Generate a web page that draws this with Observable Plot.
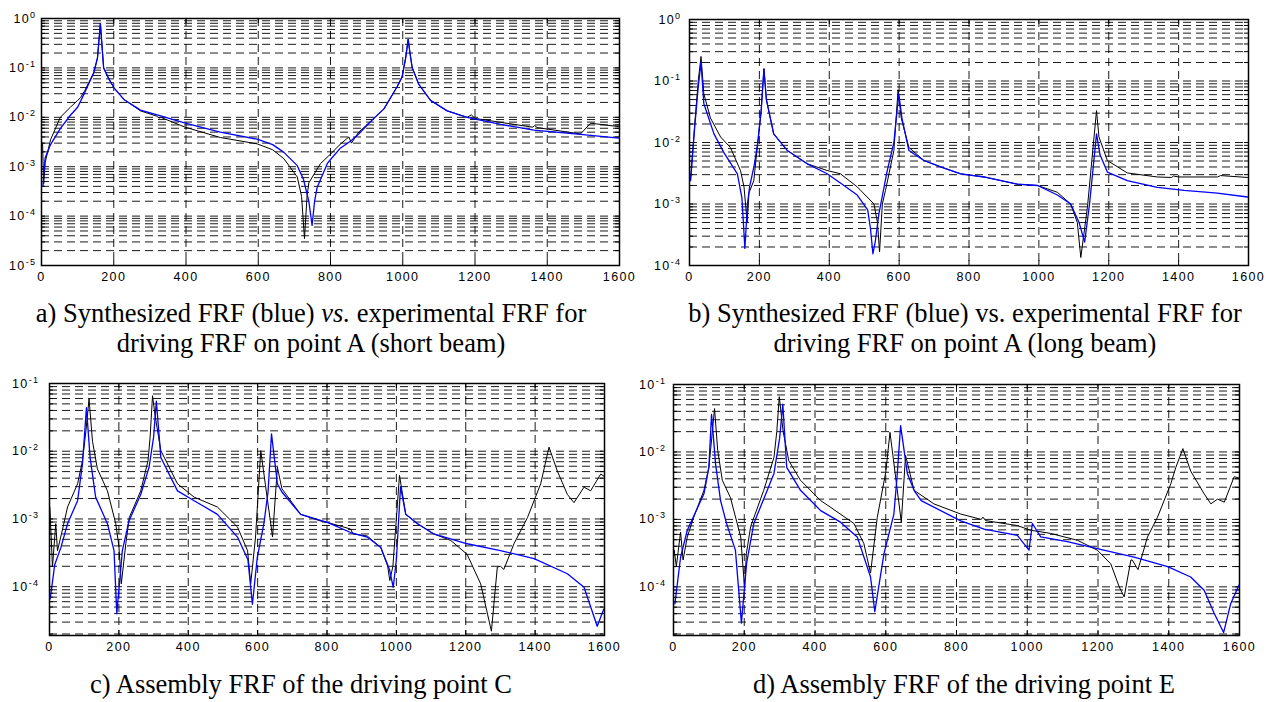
<!DOCTYPE html>
<html>
<head>
<meta charset="utf-8">
<script src="https://cdn.jsdelivr.net/npm/d3@7"></script>
<script src="https://cdn.jsdelivr.net/npm/@observablehq/plot@0.6"></script>
<style>
  html, body { margin: 0; padding: 0; background: #fff; }
  #root { position: relative; width: 1274px; height: 702px; overflow: hidden; background: #fff; }
  .pan { position: absolute; }
  .cap { position: absolute; width: 700px; text-align: center; font-family: "Liberation Serif", "Times New Roman", serif;
         color: #000; white-space: nowrap; }
</style>
</head>
<body>
<div id="root"></div>
<script>
// ---------- shared tick labels ----------
const xTickValues = [0, 200, 400, 600, 800, 1000, 1200, 1400, 1600];
const xGridValues = [200, 400, 600, 800, 1000, 1200, 1400];

// ---------- panel a: short beam, driving point A ----------
const aDecades = [1e-5, 1e-4, 1e-3, 1e-2, 1e-1, 1];
const aExpF = [3, 6, 10, 25, 52, 80, 100, 108, 120, 145, 155, 163, 168, 172, 185, 200, 228, 274, 320, 325, 330, 398, 495, 597, 640, 671, 708, 720, 728, 735, 740, 772, 800, 828, 851, 858, 878, 920, 948, 984, 998, 1008, 1015, 1020, 1026, 1044, 1077, 1123, 1178, 1190, 1200, 1271, 1360, 1365, 1372, 1492, 1520, 1597];
const aExpV = [3e-3, 4.5e-4, 1.2e-3, 3.5e-3, 1e-2, 1.6e-2, 2.2e-2, 2.5e-2, 3.5e-2, 0.081, 0.16, 0.79, 0.25, 0.10, 0.063, 0.040, 0.023, 0.0135, 0.0105, 0.0096, 0.010, 6.3e-3, 3.9e-3, 2.9e-3, 2.2e-3, 1.45e-3, 6.2e-4, 2.5e-4, 3.5e-5, 2.5e-4, 4.7e-4, 1.15e-3, 1.8e-3, 2.9e-3, 4e-3, 3e-3, 5e-3, 9.5e-3, 0.0148, 0.041, 0.065, 0.158, 0.38, 0.2, 0.102, 0.047, 0.022, 0.0135, 0.010, 0.0112, 9.5e-3, 7.9e-3, 6.3e-3, 6.8e-3, 6.2e-3, 4.6e-3, 7.6e-3, 6.5e-3];
const aSynF = [4, 10, 25, 52, 80, 100, 120, 145, 155, 163, 168, 172, 185, 200, 228, 274, 330, 398, 495, 597, 640, 671, 708, 725, 740, 749, 756, 763, 791, 800, 828, 858, 878, 920, 948, 984, 998, 1008, 1015, 1020, 1026, 1044, 1077, 1123, 1178, 1271, 1363, 1492, 1598];
const aSynV = [4e-4, 1.5e-3, 2.8e-3, 5.9e-3, 1.1e-2, 1.6e-2, 3.2e-2, 0.081, 0.16, 0.79, 0.25, 0.10, 0.063, 0.040, 0.023, 0.014, 0.0107, 7.6e-3, 5e-3, 3.6e-3, 2.8e-3, 1.95e-3, 1.05e-3, 5.6e-4, 2e-4, 6.5e-5, 2e-4, 3.8e-4, 1.15e-3, 1.4e-3, 2.4e-3, 3.4e-3, 4.6e-3, 9.5e-3, 0.0148, 0.041, 0.065, 0.158, 0.38, 0.2, 0.102, 0.047, 0.022, 0.0135, 0.010, 7.2e-3, 5.5e-3, 4.5e-3, 3.8e-3];

// ---------- panel b: long beam, driving point A ----------
const bDecades = [1e-4, 1e-3, 1e-2, 1e-1, 1];
const bExpF = [3, 15, 25, 33, 41, 60, 89, 117, 146, 156, 165, 170, 184, 195, 205, 213, 220, 241, 280, 337, 394, 432, 480, 528, 538, 544, 552, 561, 585, 597, 606, 628, 671, 719, 776, 843, 938, 996, 1053, 1091, 1110, 1120, 1139, 1165, 1172, 1196, 1253, 1339, 1380, 1385, 1400, 1511, 1520, 1597];
const bExpV = [2.4e-3, 0.02, 0.1, 0.25, 0.062, 0.025, 0.0123, 8.3e-3, 3.5e-3, 1.9e-3, 5e-4, 1.5e-3, 2.4e-3, 9.5e-3, 0.032, 0.158, 0.05, 0.0138, 7.4e-3, 4.5e-3, 3.5e-3, 3.1e-3, 1.9e-3, 1e-3, 5e-4, 1.66e-4, 1e-3, 1.66e-3, 7.4e-3, 0.072, 0.025, 8.3e-3, 5.1e-3, 4e-3, 3.1e-3, 2.75e-3, 2.1e-3, 2e-3, 1.55e-3, 1e-3, 5e-4, 1.35e-4, 8.9e-4, 0.033, 0.0123, 5.1e-3, 3.2e-3, 2.75e-3, 2.7e-3, 2.85e-3, 2.75e-3, 2.75e-3, 2.9e-3, 2.7e-3];
const bSynF = [3, 15, 25, 33, 41, 70, 98, 137, 150, 158.5, 166, 172, 186, 195, 205, 213, 220, 241, 280, 337, 394, 432, 480, 510, 518, 525, 532, 542, 566, 585, 599, 608, 628, 671, 719, 776, 843, 938, 996, 1053, 1091, 1115, 1131, 1145, 1165, 1175, 1196, 1253, 1339, 1416, 1511, 1597];
const bSynV = [2.4e-3, 0.018, 0.08, 0.2, 0.043, 0.0138, 6.9e-3, 3.1e-3, 1.26e-3, 1.9e-4, 1e-3, 1.9e-3, 4.5e-3, 9.5e-3, 0.032, 0.158, 0.05, 0.0138, 7.4e-3, 4.5e-3, 3.1e-3, 2.2e-3, 1.4e-3, 8e-4, 4e-4, 1.55e-4, 2.5e-4, 6.9e-4, 3.5e-3, 0.01, 0.062, 0.025, 7.4e-3, 5.1e-3, 4e-3, 3.1e-3, 2.75e-3, 2.1e-3, 2e-3, 1.4e-3, 1e-3, 5e-4, 2.4e-4, 1e-3, 0.0138, 6.3e-3, 3.3e-3, 2.4e-3, 1.86e-3, 1.66e-3, 1.5e-3, 1.3e-3];

// ---------- panel c: assembly, driving point C ----------
const cDecades = [1e-4, 1e-3, 1e-2, 1e-1];
const cExpF = [1, 8.6, 18, 23, 37, 52, 81, 95, 105, 114, 124, 138, 167, 191, 200, 207, 220, 230, 263, 284, 290, 297, 305, 321, 369, 417, 484, 542, 571, 580, 594, 609, 643, 657, 670, 724, 782, 801, 868, 875, 916, 955, 975, 981, 990, 1009, 1027, 1061, 1108, 1157, 1204, 1243, 1274, 1291, 1300, 1310, 1339, 1378, 1416, 1440, 1464, 1493, 1512, 1541, 1560, 1589, 1598];
const cExpV = [1.5e-3, 1.95e-4, 8.5e-4, 3.4e-4, 6.8e-4, 1.5e-3, 3.3e-3, 7.2e-3, 0.02, 0.059, 0.014, 5.5e-3, 2.6e-3, 8.5e-4, 4e-4, 1.1e-4, 4.3e-4, 1.05e-3, 2.6e-3, 7.2e-3, 0.016, 0.066, 0.032, 0.0102, 3.3e-3, 2.1e-3, 1.5e-3, 7.6e-4, 3.4e-4, 1.1e-4, 5.4e-4, 0.0102, 5.4e-4, 5.8e-3, 2.8e-3, 1.17e-3, 9.3e-4, 8.9e-4, 7.1e-4, 6e-4, 5.6e-4, 3.8e-4, 2e-4, 1.23e-4, 2e-4, 4.4e-3, 1.17e-3, 8.5e-4, 6e-4, 4.8e-4, 3e-4, 1.1e-4, 2.2e-5, 1.95e-4, 2e-4, 1.8e-4, 4.3e-4, 1.05e-3, 3.3e-3, 0.0115, 5.1e-3, 2.3e-3, 1.74e-3, 2.95e-3, 2.6e-3, 4.6e-3, 4.3e-3];
const cSynF = [2, 15, 33, 52, 81, 95, 106.5, 117, 133, 167, 186, 194, 210, 229, 263, 287, 300, 308, 321, 369, 417, 484, 542, 572, 585, 599, 618, 630, 640, 657, 670, 724, 801, 868, 916, 955, 980, 991, 1000, 1012, 1027, 1061, 1108, 1204, 1300, 1397, 1493, 1541, 1579, 1598];
const cSynV = [6.6e-5, 2.1e-4, 3.8e-4, 8.5e-4, 1.86e-3, 6.5e-3, 0.044, 8.1e-3, 2.1e-3, 8.5e-4, 3.4e-4, 4e-5, 3.4e-4, 9.3e-4, 2.3e-3, 5.8e-3, 0.016, 0.055, 8.1e-3, 2.6e-3, 1.86e-3, 1.17e-3, 5.4e-4, 2.5e-4, 5.5e-5, 2.7e-4, 8.5e-4, 2.5e-3, 0.018, 3.3e-3, 2.5e-3, 1.17e-3, 8.9e-4, 6.3e-4, 5.4e-4, 3.8e-4, 1.8e-4, 9.8e-5, 2.5e-4, 3e-3, 1.17e-3, 8.5e-4, 6e-4, 4.3e-4, 3.4e-4, 2.6e-4, 1.55e-4, 9.8e-5, 2.6e-5, 4.7e-5];

// ---------- panel d: assembly, driving point E ----------
const dDecades = [1e-4, 1e-3, 1e-2, 1e-1];
const dExpF = [2, 8, 20, 27, 39, 57, 86, 100, 108, 116, 125, 138, 161, 190, 201, 206, 218, 255, 284, 292, 299, 310, 326, 359, 416, 445, 510, 538, 557, 576, 600, 612, 644, 656, 680, 736, 812, 870, 875, 882, 972, 1010, 1066, 1142, 1198, 1236, 1260, 1274, 1293, 1297, 1313, 1340, 1368, 1406, 1420, 1440, 1462, 1500, 1519, 1538, 1557, 1585, 1599];
const dExpV = [3.5e-4, 2e-4, 6.5e-4, 2.5e-4, 5.5e-4, 1.07e-3, 2.7e-3, 5.9e-3, 0.016, 0.044, 0.0105, 3.8e-3, 2.1e-3, 5.5e-4, 9.5e-5, 3.1e-4, 7.8e-4, 2.7e-3, 8.3e-3, 0.02, 0.066, 0.02, 7.4e-3, 3.8e-3, 1.9e-3, 1.5e-3, 8.7e-4, 4.4e-4, 1.6e-4, 1.07e-3, 5e-3, 0.0195, 9.1e-4, 8.9e-3, 2.7e-3, 1.7e-3, 1.2e-3, 1e-3, 1.08e-3, 9.6e-4, 8.1e-4, 6.9e-4, 6.2e-4, 4.9e-4, 3.5e-4, 2.2e-4, 1e-4, 7.1e-5, 2.5e-4, 2.5e-4, 1.8e-4, 5.5e-4, 1.07e-3, 3.4e-3, 5.9e-3, 0.0112, 5.2e-3, 2.4e-3, 1.7e-3, 2e-3, 1.8e-3, 4.3e-3, 4.1e-3];
const dSynF = [4, 20, 39, 86, 100, 107.5, 119, 133, 150, 175, 192, 206.5, 227, 265, 284, 300, 309, 320, 359, 416, 472, 519.5, 557, 569, 595, 623, 632, 642, 661, 680, 700, 812, 878, 972, 1005, 1014.5, 1038, 1113, 1198, 1302, 1397, 1462, 1500, 1528, 1555, 1575, 1599];
const dSynV = [5.6e-5, 2.75e-4, 6.9e-4, 2.4e-3, 5.9e-3, 0.036, 6.6e-3, 1.9e-3, 8.7e-4, 3.5e-4, 2.9e-5, 2.2e-4, 8.7e-4, 2.7e-3, 4.8e-3, 0.016, 0.051, 5.9e-3, 2.7e-3, 1.35e-3, 9.1e-4, 5.5e-4, 1.4e-4, 4.3e-5, 3.1e-4, 1.2e-3, 4.3e-3, 0.0245, 4.8e-3, 2.7e-3, 1.9e-3, 9.5e-4, 7.2e-4, 5.8e-4, 3.5e-4, 8.7e-4, 5.5e-4, 4.7e-4, 3.7e-4, 2.75e-4, 2e-4, 1.4e-4, 8.9e-5, 4.1e-5, 2.1e-5, 5.6e-5, 1.07e-4];

// ---------- captions ----------
const captions = [
  {cx: 311, top: 298, size: 26.5, lh: 30, html: "a) Synthesized FRF (blue) <i>vs.</i> experimental FRF for<br>driving FRF on point A (short beam)"},
  {cx: 965, top: 298, size: 26.5, lh: 30, html: "b) Synthesized FRF (blue) vs. experimental FRF for<br>driving FRF on point A (long beam)"},
  {cx: 301, top: 669, size: 26.5, lh: 30, html: "c) Assembly FRF of the driving point C"},
  {cx: 964, top: 669, size: 26.5, lh: 30, html: "d) Assembly FRF of the driving point E"}
];

// ---------- helpers ----------
function series(F, V) { return F.map((f, i) => ({f, v: V[i]})); }
function logGrid(lo, hi) {
  const out = [];
  for (let e = Math.floor(Math.log10(lo)) ; e <= Math.ceil(Math.log10(hi)); e++) {
    for (let k = 1; k <= 9; k++) {
      const v = k * Math.pow(10, e);
      if (v > lo * 1.0001 && v < hi * 0.9999) out.push(v);
    }
  }
  return out;
}

function panel(o) {
  const innerW = o.width - o.ml - o.mr;
  const innerH = o.height - o.mt - o.mb;
  const grid = logGrid(o.yDomain[0], o.yDomain[1]);
  const svg = Plot.plot({
    width: o.width, height: o.height,
    marginLeft: o.ml, marginRight: o.mr, marginTop: o.mt, marginBottom: o.mb,
    style: {fontFamily: "'Liberation Sans', Arial, Helvetica, sans-serif", fontSize: "12.5px", letterSpacing: "1.4px", color: "#000", background: "#fff"},
    x: {domain: [0, 1600], ticks: xTickValues, tickSize: 0, tickPadding: 7, tickFormat: d => String(d), label: null},
    y: {type: "log", domain: o.yDomain, ticks: o.decades, tickSize: 0, tickPadding: o.pad,
        tickFormat: d => "10^" + Math.round(Math.log10(d)), label: null},
    marks: [
      Plot.ruleY(grid, {stroke: "#000", strokeWidth: 0.9, strokeDasharray: "8,5"}),
      Plot.ruleX(xGridValues, {stroke: "#000", strokeWidth: 0.9, strokeDasharray: "8,5"}),
      Plot.tickY(grid, {stroke: "#000", insetRight: innerW - 4}),
      Plot.tickY(grid, {stroke: "#000", insetLeft: innerW - 4}),
      Plot.tickX(xTickValues, {stroke: "#000", insetTop: innerH - 5}),
      Plot.tickX(xTickValues, {stroke: "#000", insetBottom: innerH - 5}),
      Plot.line(series(o.expF, o.expV), {x: "f", y: "v", stroke: "#000", strokeWidth: 1, clip: true}),
      Plot.line(series(o.synF, o.synV), {x: "f", y: "v", stroke: "#0000ff", strokeWidth: 1.3, clip: true}),
      Plot.frame({stroke: "#000", strokeWidth: 1.5})
    ]
  });
  // superscript exponents on y tick labels
  d3.select(svg).selectAll("text").each(function() {
    const t = this.textContent;
    const m = /^10\^(-?\d+)$/.exec(t);
    if (!m) return;
    const sel = d3.select(this);
    sel.text(null);
    sel.append("tspan").text("10");
    sel.append("tspan").attr("dy", "-0.55em").attr("font-size", "0.72em").text(m[1]);
  });
  const div = document.createElement("div");
  div.className = "pan";
  div.style.left = o.left + "px";
  div.style.top = o.top + "px";
  div.appendChild(svg);
  return div;
}

const root = document.getElementById("root");
root.appendChild(panel({left: 0, top: 0, width: 640, height: 290, ml: 41, mr: 21, mt: 18, mb: 25, pad: 5,
  yDomain: [1e-5, 1], decades: aDecades, expF: aExpF, expV: aExpV, synF: aSynF, synV: aSynV}));
root.appendChild(panel({left: 640, top: 0, width: 634, height: 290, ml: 49, mr: 26, mt: 19, mb: 25, pad: 8,
  yDomain: [1e-4, 1], decades: bDecades, expF: bExpF, expV: bExpV, synF: bSynF, synV: bSynV}));
root.appendChild(panel({left: 0, top: 360, width: 640, height: 300, ml: 49, mr: 36, mt: 23, mb: 25, pad: 10,
  yDomain: [1.9e-5, 0.1], decades: cDecades, expF: cExpF, expV: cExpV, synF: cSynF, synV: cSynV}));
root.appendChild(panel({left: 640, top: 360, width: 634, height: 300, ml: 33, mr: 35, mt: 24, mb: 25, pad: 7,
  yDomain: [1.9e-5, 0.1], decades: dDecades, expF: dExpF, expV: dExpV, synF: dSynF, synV: dSynV}));

for (const c of captions) {
  const div = document.createElement("div");
  div.className = "cap";
  div.style.left = (c.cx - 350) + "px";
  div.style.top = c.top + "px";
  div.style.fontSize = c.size + "px";
  div.style.lineHeight = c.lh + "px";
  div.innerHTML = c.html;
  root.appendChild(div);
}
</script>
</body>
</html>
